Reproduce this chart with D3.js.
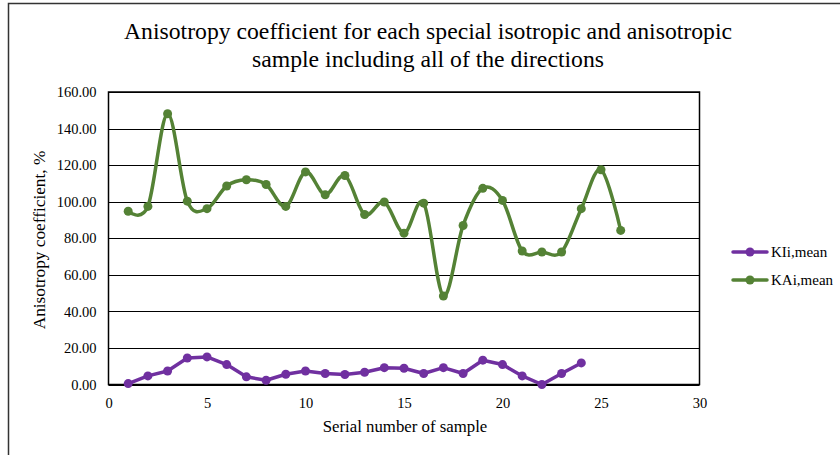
<!DOCTYPE html>
<html><head><meta charset="utf-8">
<script src="https://cdn.jsdelivr.net/npm/d3@7/dist/d3.min.js"></script>
<style>body{margin:0;background:#fff}svg{display:block}</style>
</head><body>
<svg id="c" width="840" height="455"></svg>
<script>
const kIiX = [1,2,3,4,5,6,7,8,9,10,11,12,13,14,15,16,17,18,19,20,21,22,23,24];
const kIiY = [0.5,4.7,7.4,14.5,15.1,10.9,4.2,2.3,5.6,7.4,6.0,5.5,6.7,9.2,8.9,6.0,9.2,6.0,13.3,10.9,4.7,0.0,6.0,11.8];
const kAiX = [1,2,3,4,5,6,7,8,9,10,11,12,13,14,15,16,17,18,19,20,21,22,23,24,25,26];
const kAiY = [94.8,97.4,148.1,100.3,96.2,108.6,112.0,109.4,97.4,116.3,103.8,114.3,93.0,99.8,82.8,99.2,48.4,87.0,107.3,100.7,73.0,72.5,72.5,96.2,117.5,84.3];
const xTicks = [0,5,10,15,20,25,30];
const yTicks = [0,20,40,60,80,100,120,140,160];
const seriesNames = ["KIi,mean","KAi,mean"];
const colors = ["#7030a0","#548235"];

const svg = d3.select("#c");
const font = "'Liberation Serif','Times New Roman',serif";
const L=108.5, R=699.5, T=92, B=384.5;
const x = d3.scaleLinear().domain([0,30]).range([L,R]);
const y = d3.scaleLinear().domain([0,160]).range([B,T]);

// outer frame
svg.append("path").attr("d","M8.5,460 V3.5 H845").attr("fill","none").attr("stroke","#333").attr("stroke-width",1.5);

// title
const title = svg.append("text").attr("x",428).attr("text-anchor","middle")
  .attr("font-family",font).attr("font-size",23.7).attr("fill","#000");
title.append("tspan").attr("x",428).attr("y",39).text("Anisotropy coefficient for each special isotropic and anisotropic");
title.append("tspan").attr("x",428).attr("y",67).text("sample including  all of the directions");

// grid
svg.append("g").selectAll("line").data(yTicks).join("line")
  .attr("x1",L).attr("x2",R).attr("y1",d=>Math.round(y(d))+0.5).attr("y2",d=>Math.round(y(d))+0.5)
  .attr("stroke","#000").attr("stroke-width",1);
svg.append("rect").attr("x",L).attr("y",T).attr("width",R-L).attr("height",B-T)
  .attr("fill","none").attr("stroke","#000").attr("stroke-width",1.5);

// axes
const yAxis = svg.append("g").attr("transform",`translate(${L},0)`)
  .call(d3.axisLeft(y).tickValues(yTicks).tickSize(0).tickPadding(12).tickFormat(d3.format(".2f")));
yAxis.select(".domain").remove();
yAxis.selectAll("text").attr("font-family",font).attr("font-size",14.5).attr("fill","#000");

const xAxis = svg.append("g").attr("transform",`translate(0,${B})`)
  .call(d3.axisBottom(x).tickValues(xTicks).tickSize(0).tickPadding(13).tickFormat(d3.format("d")));
xAxis.select(".domain").remove();
xAxis.selectAll("text").attr("font-family",font).attr("font-size",14.5).attr("fill","#000");

svg.append("text").attr("x",405).attr("y",432).attr("text-anchor","middle")
  .attr("font-family",font).attr("font-size",16.8).text("Serial number of sample");
svg.append("text").attr("transform","translate(45,240) rotate(-90)").attr("text-anchor","middle")
  .attr("font-family",font).attr("font-size",17.3).text("Anisotropy coefficient, %");

// series
const s1 = kIiX.map((d,i)=>[d,kIiY[i]]);
const s2 = kAiX.map((d,i)=>[d,kAiY[i]]);
const lineLin = d3.line().x(d=>x(d[0])).y(d=>y(d[1]));
const lineSmooth = d3.line().x(d=>x(d[0])).y(d=>y(d[1])).curve(d3.curveCardinal.tension(0));

[[s2,lineSmooth,colors[1]],[s1,lineLin,colors[0]]].forEach(([data,gen,col])=>{
  svg.append("path").datum(data).attr("d",gen).attr("fill","none").attr("stroke",col)
    .attr("stroke-width",3.5).attr("stroke-linejoin","round").attr("stroke-linecap","round");
  svg.append("g").selectAll("circle").data(data).join("circle")
    .attr("cx",d=>x(d[0])).attr("cy",d=>y(d[1])).attr("r",4.5).attr("fill",col);
});

// legend
const leg = svg.append("g");
[252,280].forEach((ly,i)=>{
  leg.append("line").attr("x1",733).attr("x2",767).attr("y1",ly).attr("y2",ly)
    .attr("stroke",colors[i]).attr("stroke-width",3.5).attr("stroke-linecap","round");
  leg.append("circle").attr("cx",750).attr("cy",ly).attr("r",4.5).attr("fill",colors[i]);
  leg.append("text").attr("x",771).attr("y",ly+5).attr("font-family",font).attr("font-size",15)
    .text(seriesNames[i]);
});
</script>
</body></html>
